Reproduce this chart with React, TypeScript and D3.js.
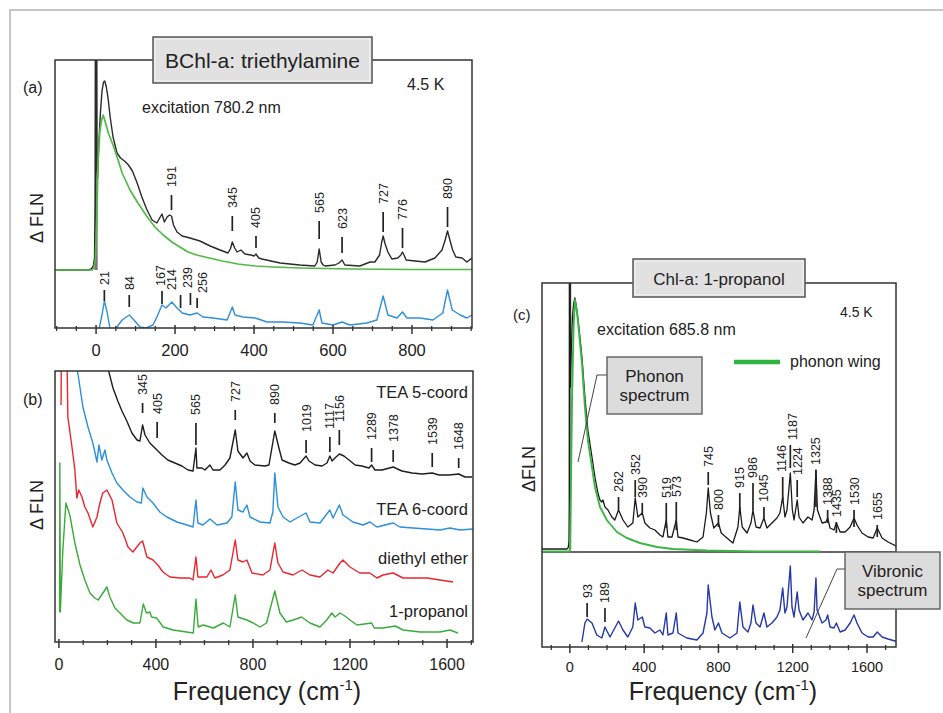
import React from 'react';
import * as d3 from 'd3';

type Pt = [number, number];
type Peak = [number, number, number];

// ---------- Panel (a): BChl-a in triethylamine ----------
const aDelta: Pt[] = [[-104,58],[-20,58],[-12,59],[-7,62],[-4,70],[-2,130],[-1,290],[1,290],[2,160],[4,150],[7,185],[11,215],[15,237],[19,246],[22,247],[26,241],[30,231],[36,210],[43,191],[53,175],[62,170],[72,167],[82,163],[92,157],[104,145],[116,131],[129,118],[142,108],[154,105],[161,110],[167,114],[173,106],[180,111],[186,113],[191,112],[196,103],[205,96],[218,92],[238,90],[263,87],[289,82],[314,78],[334,75],[340,79],[345,86],[351,80],[357,76],[367,78],[377,74],[392,73],[400,72],[405,74],[412,70],[420,69],[466,65],[516,63],[554,62],[560,66],[565,79],[570,66],[575,63],[580,62],[605,63],[615,65],[623,68],[630,63],[668,62],[694,66],[706,66],[718,73],[723,85],[727,92],[732,84],[739,76],[749,69],[764,70],[772,73],[776,76],[781,72],[785,68],[808,67],[833,66],[858,70],[876,78],[884,88],[890,97],[896,88],[903,78],[911,71],[927,70],[939,66],[952,70]];
const aPhonon: Pt[] = [[-104,58],[-10,58],[-6,60],[-2,68],[2,110],[5,168],[10,198],[14,208],[18,213],[24,205],[32,194],[43,183],[55,169],[66,155],[86,138],[106,125],[128,112],[149,101],[170,93],[192,86],[212,81],[233,76],[255,73],[276,71],[298,69],[319,67],[340,65.5],[359,64],[403,62],[450,61],[516,60],[643,59],[800,58.5],[952,58.5]];
const aVibronic: Pt[] = [[8,0],[15,13],[21,27],[28,16],[35,0],[40,-4],[48,-4],[51,0],[66,8],[84,13],[96,8],[111,1],[127,0],[144,3],[154,11],[167,23],[177,20],[192,26],[205,20],[218,15],[238,13],[256,15],[271,11],[296,10],[332,8],[345,21],[352,13],[372,11],[403,10],[433,6],[473,6],[516,5],[549,3],[565,18],[572,5],[600,3],[623,6],[643,3],[686,5],[711,8],[727,32],[739,13],[762,10],[776,16],[787,10],[820,10],[853,8],[878,15],[890,38],[902,18],[922,13],[939,10],[952,13]];
const aDeltaPeaks: Peak[] = [[191,118,133],[345,97,112],[405,80,92],[565,89,107],[623,75,91],[727,96,116],[776,80,100],[890,101,121]];
const aVibronicPeaks: Peak[] = [[21,27,38],[84,21,33],[167,24,37],[214,20,33],[239,23,35],[256,20,30]];
const aTicks = [0, 200, 400, 600, 800];

// ---------- Panel (b): BChl-a in four solvents ----------
const bSolvents = ['TEA 5-coord', 'TEA 6-coord', 'diethyl ether', '1-propanol'];
const bTea5: Pt[] = [[180,300],[190,285],[202,274],[223,254],[243,241],[260,231],[280,221],[301,209],[322,202],[334,201],[345,217],[355,207],[375,199],[396,194],[425,187],[449,182],[478,179],[507,176],[532,172],[553,171],[565,194],[569,174],[590,174],[602,172],[623,177],[635,172],[664,172],[685,177],[705,184],[727,212],[738,191],[759,184],[775,189],[788,181],[808,177],[849,176],[866,177],[878,194],[890,211],[907,194],[920,182],[948,179],[973,177],[994,179],[1019,186],[1031,181],[1056,177],[1085,176],[1105,179],[1117,186],[1126,181],[1138,184],[1156,188],[1175,186],[1196,182],[1221,177],[1249,176],[1278,174],[1289,177],[1303,172],[1332,172],[1378,175],[1414,171],[1456,169],[1497,168],[1539,169],[1567,167],[1608,167],[1648,168],[1674,165],[1703,165]];
const bTea6: Pt[] = [[70,290],[78,269],[99,235],[120,215],[140,199],[157,180],[165,197],[177,182],[190,192],[198,182],[219,169],[239,159],[264,152],[293,145],[322,140],[340,139],[346,154],[363,145],[388,139],[416,130],[445,125],[487,120],[528,117],[553,115],[565,142],[573,119],[594,117],[623,123],[652,117],[693,119],[713,125],[727,160],[738,132],[759,130],[775,137],[788,125],[829,120],[870,119],[882,130],[890,169],[903,135],[924,125],[953,120],[981,124],[1019,129],[1035,120],[1076,119],[1117,132],[1130,124],[1156,137],[1171,127],[1212,120],[1254,117],[1282,120],[1311,115],[1378,119],[1406,115],[1460,114],[1518,113],[1571,112],[1612,114],[1654,112],[1707,113]];
const bEther: Pt[] = [[9,237],[11,330],[31,330],[37,225],[54,195],[66,172],[74,144],[82,152],[95,145],[107,135],[120,129],[140,115],[157,125],[169,139],[181,149],[198,152],[219,142],[239,119],[264,109],[285,95],[305,90],[334,99],[345,101],[363,85],[388,82],[408,77],[429,70],[458,65],[499,64],[540,64],[553,62],[565,85],[573,65],[610,65],[627,72],[643,64],[676,67],[705,72],[727,102],[738,82],[759,80],[775,82],[796,69],[841,67],[870,72],[890,99],[903,79],[924,70],[965,67],[1002,72],[1035,67],[1076,65],[1109,72],[1130,69],[1159,79],[1171,82],[1200,75],[1241,69],[1282,69],[1311,64],[1336,67],[1377,69],[1419,64],[1489,64],[1518,64],[1571,62],[1625,60]];
const bPropanol: Pt[] = [[3,30],[4,179],[6,30],[16,90],[25,125],[29,139],[45,127],[66,99],[87,77],[107,62],[128,49],[148,44],[162,42],[176,47],[198,55],[210,45],[231,34],[252,29],[280,22],[307,19],[334,19],[348,38],[361,29],[375,30],[382,25],[403,24],[430,15],[471,12],[526,10],[554,9],[565,43],[574,15],[595,17],[637,14],[678,19],[705,15],[727,47],[738,25],[775,22],[801,19],[829,15],[856,19],[890,51],[911,29],[938,20],[966,22],[1000,25],[1035,19],[1076,15],[1104,22],[1125,29],[1138,25],[1159,29],[1179,26],[1200,22],[1229,17],[1289,19],[1300,14],[1336,14],[1386,16],[1419,12],[1489,10],[1571,10],[1612,12],[1645,9]];
const bPeaks: Peak[] = [[345,229,239],[405,204,220],[565,197,219],[727,222,232],[890,219,229],[1019,189,202],[1117,190,205],[1156,197,212],[1289,180,194],[1378,180,192],[1539,175,189],[1648,174,184]];
const bTicks = [0, 400, 800, 1200, 1600];

// ---------- Panel (c): Chl-a in 1-propanol ----------
const cDelta: Pt[] = [[-150,98],[-15,98],[-8,100],[-4,106],[-2,140],[-1,400],[1.5,400],[3,260],[8,300],[14,330],[20,343],[27,349],[34,342],[43,329],[54,310],[65,290],[81,250],[97,217],[119,190],[135,170],[151,154],[162,147],[172,145],[178,147],[189,140],[205,137],[226,130],[242,127],[262,137],[286,127],[312,120],[339,124],[352,149],[366,130],[390,134],[404,124],[431,119],[458,117],[485,112],[501,110],[519,127],[528,110],[550,110],[573,127],[582,110],[609,109],[647,107],[684,105],[717,110],[735,134],[745,159],[757,134],[775,119],[800,124],[815,114],[846,109],[878,104],[905,120],[915,140],[928,120],[954,114],[975,124],[986,137],[1002,120],[1024,119],[1045,129],[1061,119],[1088,124],[1115,129],[1131,134],[1146,150],[1158,130],[1169,137],[1187,174],[1198,137],[1207,127],[1224,147],[1234,130],[1255,124],[1282,130],[1304,127],[1315,137],[1325,177],[1333,137],[1358,124],[1379,125],[1388,129],[1401,119],[1422,117],[1435,124],[1455,115],[1482,115],[1509,120],[1530,129],[1546,122],[1573,114],[1606,110],[1633,109],[1655,119],[1681,109],[1713,105],[1756,101]];
const cPhonon: Pt[] = [[-150,95.5],[-3,95.5],[0,97],[5,150],[12,250],[20,320],[27,347],[34,340],[43,327],[54,305],[65,284],[81,240],[97,207],[119,180],[135,160],[162,140],[199,127],[253,115],[307,109],[377,104],[469,100],[555,98],[738,96.5],[1000,95.5],[1350,95.5]];
const cVibronic: Pt[] = [[65,5],[81,24],[93,28],[119,24],[145,12],[172,9],[189,20],[216,10],[242,19],[262,26],[286,17],[312,10],[339,20],[352,44],[366,27],[390,30],[404,20],[431,19],[458,14],[485,17],[501,12],[519,34],[528,12],[555,14],[573,34],[582,14],[630,9],[684,7],[717,14],[738,34],[745,62],[765,30],[781,17],[800,24],[819,14],[862,9],[900,14],[915,45],[932,20],[959,15],[975,24],[986,42],[1002,24],[1024,20],[1045,34],[1061,20],[1088,24],[1115,30],[1131,37],[1146,59],[1158,34],[1169,40],[1187,81],[1196,40],[1207,30],[1224,55],[1234,37],[1255,27],[1282,34],[1304,27],[1315,35],[1325,69],[1331,37],[1358,24],[1379,27],[1388,32],[1401,20],[1422,19],[1435,24],[1455,15],[1482,17],[1509,24],[1530,32],[1546,24],[1573,14],[1606,10],[1633,10],[1655,15],[1681,10],[1713,8],[1751,6],[1762,5]];
const cDeltaPeaks: Peak[] = [[262,137,150],[352,150,167],[390,134,144],[519,119,144],[573,117,145],[745,162,175],[800,120,132],[915,137,154],[986,137,164],[1045,129,140],[1146,147,170],[1187,179,202],[1224,150,167],[1325,140,177],[1388,124,137],[1435,114,125],[1530,120,137],[1655,110,122]];
const cVibronicPeaks: Peak[] = [[93,30,44],[189,25,39]];
const cTicks = [0, 400, 800, 1200, 1600];

// ---------- layout / style ----------
const FONT = "'Liberation Sans', Arial, Helvetica, sans-serif";
const INK = '#222';
const FRAME = '#333';

type Scale = d3.ScaleLinear<number, number>;

function Curve({ data, x, y, color, width = 1.4 }: { data: Pt[]; x: Scale; y: Scale; color: string; width?: number }) {
  const line = d3.line<Pt>().x(d => x(d[0])).y(d => y(d[1]));
  return <path d={line(data) || ''} fill="none" stroke={color} strokeWidth={width} strokeLinejoin="round" />;
}

function PeakLabels({ peaks, x, y, gap, nudge = {} }: { peaks: Peak[]; x: Scale; y: Scale; gap: number; nudge?: Record<number, number> }) {
  return (
    <g>
      {peaks.map(([f, lo, hi]) => {
        const px = x(f);
        const tx = px + (nudge[f] || 0);
        return (
          <g key={f}>
            <line x1={px} x2={px} y1={y(lo)} y2={y(hi)} stroke={INK} strokeWidth={1.7} />
            <text transform={`translate(${tx},${y(hi) - gap}) rotate(-90)`} dy="0.36em" fontSize={12.5} fill={INK}>{f}</text>
          </g>
        );
      })}
    </g>
  );
}

function BottomAxis({ x, y0, major, minorStep, labelY, fontSize }: { x: Scale; y0: number; major: number[]; minorStep: number; labelY: number; fontSize: number }) {
  const [d0, d1] = x.domain();
  const minor = d3.range(Math.ceil(d0 / minorStep) * minorStep, d1, minorStep).filter(v => !major.includes(v));
  return (
    <g>
      {minor.map(v => <line key={'m' + v} x1={x(v)} x2={x(v)} y1={y0 - 2} y2={y0 + 3} stroke={FRAME} strokeWidth={1.3} />)}
      {major.map(v => <line key={'M' + v} x1={x(v)} x2={x(v)} y1={y0 - 3} y2={y0 + 6} stroke={FRAME} strokeWidth={1.5} />)}
      {major.map(v => <text key={'t' + v} x={x(v)} y={labelY} textAnchor="middle" fontSize={fontSize} fill={INK}>{v}</text>)}
    </g>
  );
}

function TitleBox({ x0, y0, x1, y1, text, size, baseline }: { x0: number; y0: number; x1: number; y1: number; text: string; size: number; baseline: number }) {
  return (
    <g>
      <rect x={x0} y={y0} width={x1 - x0} height={y1 - y0} fill="#e1e1e1" stroke="#5e5e5e" strokeWidth={1.6} />
      <rect x={x0 + 2} y={y0 + 2} width={x1 - x0 - 4} height={y1 - y0 - 4} fill="none" stroke="#f4f4f4" strokeWidth={1} />
      <text x={(x0 + x1) / 2} y={baseline} textAnchor="middle" fontSize={size} fill={INK}>{text}</text>
    </g>
  );
}

function FreqLabel({ cx, y }: { cx: number; y: number }) {
  return (
    <text x={cx} y={y} textAnchor="middle" fontSize={25} fill={INK}>
      Frequency (cm<tspan dy={-10} fontSize={15}>-1</tspan><tspan dy={10}>)</tspan>
    </text>
  );
}

export default function App() {
  // panel boxes (pixels)
  const A = { l: 55, r: 472, t: 60, b: 328 };
  const B = { l: 55, r: 473, t: 371, b: 642 };
  const C = { l: 542, r: 896, t: 283, b: 647, div: 552 };

  const xA = d3.scaleLinear().domain([-104, 952]).range([A.l, A.r]);
  const yA = d3.scaleLinear().domain([0, 268]).range([A.b, A.t]);
  const xB = d3.scaleLinear().domain([-16, 1707]).range([B.l, B.r]);
  const yB = d3.scaleLinear().domain([0, 271]).range([B.b, B.t]);
  const xC = d3.scaleLinear().domain([-150, 1756]).range([C.l, C.r]);
  const yC = d3.scaleLinear().domain([0, 364]).range([C.b, C.t]);

  const bColors = ['#1e1e1e', '#2b8fdc', '#e8262d', '#3aaa3a'];
  const bSeries = [bTea5, bTea6, bEther, bPropanol];
  const bLabelY = [398, 515, 564, 617];

  return (
    <svg width={943} height={713} style={{ position: 'absolute', left: 0, top: 0, display: 'block', background: '#fff' }} fontFamily={FONT}>
      <defs>
        <clipPath id="clipA"><rect x={A.l} y={A.t} width={A.r - A.l} height={A.b - A.t} /></clipPath>
        <clipPath id="clipB"><rect x={B.l} y={B.t} width={B.r - B.l} height={B.b - B.t} /></clipPath>
        <clipPath id="clipC"><rect x={C.l} y={C.t} width={C.r - C.l} height={C.b - C.t} /></clipPath>
      </defs>
      <rect x={0} y={0} width={943} height={713} fill="#fff" />
      {/* outer frame */}
      <path d="M10,713 L10,10 L943,10" fill="none" stroke="#b4b4b4" strokeWidth={1.5} />

      {/* ---------- panel (a) ---------- */}
      <g clipPath="url(#clipA)">
        <line x1={xA(0)} x2={xA(0)} y1={yA(58)} y2={A.t} stroke="#777" strokeWidth={3.2} />
        <Curve data={aDelta} x={xA} y={yA} color="#2a2a2a" />
        <Curve data={aPhonon} x={xA} y={yA} color="#52b947" width={1.7} />
        <Curve data={aVibronic} x={xA} y={yA} color="#2e8fdc" />
      </g>
      <rect x={A.l} y={A.t} width={A.r - A.l} height={A.b - A.t} fill="none" stroke={FRAME} strokeWidth={1.5} />
      <PeakLabels peaks={aDeltaPeaks} x={xA} y={yA} gap={8} />
      <PeakLabels peaks={aVibronicPeaks} x={xA} y={yA} gap={5} nudge={{ 167: -1.5, 214: -9, 239: -2.5, 256: 5.5 }} />
      <BottomAxis x={xA} y0={A.b} major={aTicks} minorStep={50} labelY={356} fontSize={16.5} />
      <TitleBox x0={153} y0={37} x1={372} y1={83} text="BChl-a: triethylamine" size={21} baseline={68} />
      <text x={23} y={93} fontSize={16} fill={INK}>(a)</text>
      <text x={407} y={90} fontSize={16} fill={INK}>4.5 K</text>
      <text x={142} y={113} fontSize={16} fill={INK}>excitation 780.2 nm</text>
      <text transform="translate(43,218) rotate(-90)" textAnchor="middle" fontSize={18} fill={INK}>Δ FLN</text>

      {/* ---------- panel (b) ---------- */}
      <g clipPath="url(#clipB)">
        {bSeries.map((s, i) => <Curve key={i} data={s} x={xB} y={yB} color={bColors[i]} width={1.4} />)}
      </g>
      <rect x={B.l} y={B.t} width={B.r - B.l} height={B.b - B.t} fill="none" stroke={FRAME} strokeWidth={1.5} />
      <PeakLabels peaks={bPeaks} x={xB} y={yB} gap={8} />
      {bSolvents.map((s, i) => <text key={s} x={468} y={bLabelY[i]} textAnchor="end" fontSize={16.5} fill={INK}>{s}</text>)}
      <BottomAxis x={xB} y0={B.b} major={bTicks} minorStep={100} labelY={670} fontSize={16} />
      <text x={23} y={405} fontSize={16} fill={INK}>(b)</text>
      <text transform="translate(43,505) rotate(-90)" textAnchor="middle" fontSize={18} fill={INK}>Δ FLN</text>
      <FreqLabel cx={267} y={700} />

      {/* ---------- panel (c) ---------- */}
      <line x1={C.l} x2={C.r} y1={C.div} y2={C.div} stroke={FRAME} strokeWidth={1.5} />
      <g clipPath="url(#clipC)">
        <line x1={xC(0)} x2={xC(0)} y1={yC(98)} y2={C.t} stroke="#9a9a9a" strokeWidth={3} />
        <Curve data={cDelta} x={xC} y={yC} color="#1a1a1a" width={1.3} />
        <Curve data={cPhonon} x={xC} y={yC} color="#3db444" width={1.9} />
        <Curve data={cVibronic} x={xC} y={yC} color="#2438a8" width={1.4} />
      </g>
      <rect x={C.l} y={C.t} width={C.r - C.l} height={C.b - C.t} fill="none" stroke={FRAME} strokeWidth={1.5} />
      <PeakLabels peaks={cDeltaPeaks} x={xC} y={yC} gap={5} nudge={{ 1146: -1, 1187: 2 }} />
      <PeakLabels peaks={cVibronicPeaks} x={xC} y={yC} gap={5} />
      <BottomAxis x={xC} y0={C.b} major={cTicks} minorStep={100} labelY={672} fontSize={14.5} />
      <TitleBox x0={633} y0={259} x1={805} y1={297} text="Chl-a: 1-propanol" size={17} baseline={285} />
      <text x={513} y={320} fontSize={15} fill={INK}>(c)</text>
      <text x={840} y={317} fontSize={14} fill={INK}>4.5 K</text>
      <text x={597} y={335} fontSize={16} fill={INK}>excitation 685.8 nm</text>
      <line x1={734} x2={780} y1={362} y2={362} stroke="#2fb440" strokeWidth={4.5} />
      <text x={790} y={367} fontSize={16} fill={INK}>phonon wing</text>
      <text transform="translate(535,469) rotate(-90)" textAnchor="middle" fontSize={18} fill={INK}>ΔFLN</text>

      {/* callout: phonon spectrum */}
      <polyline points="607,375 597,375 578,462" fill="none" stroke="#444" strokeWidth={1} />
      <rect x={607} y={357} width={95} height={57} fill="#dcdcdc" stroke="#5e5e5e" strokeWidth={1.4} />
      <text x={654.5} y={382} textAnchor="middle" fontSize={17} fill={INK}>Phonon</text>
      <text x={654.5} y={401} textAnchor="middle" fontSize={17} fill={INK}>spectrum</text>

      {/* callout: vibronic spectrum */}
      <polyline points="845,569 837,569 806,638" fill="none" stroke="#444" strokeWidth={1} />
      <rect x={845} y={552} width={95} height={57} fill="#dcdcdc" stroke="#5e5e5e" strokeWidth={1.4} />
      <text x={892.5} y={577} textAnchor="middle" fontSize={17} fill={INK}>Vibronic</text>
      <text x={892.5} y={596} textAnchor="middle" fontSize={17} fill={INK}>spectrum</text>
      <FreqLabel cx={723} y={700} />
    </svg>
  );
}
